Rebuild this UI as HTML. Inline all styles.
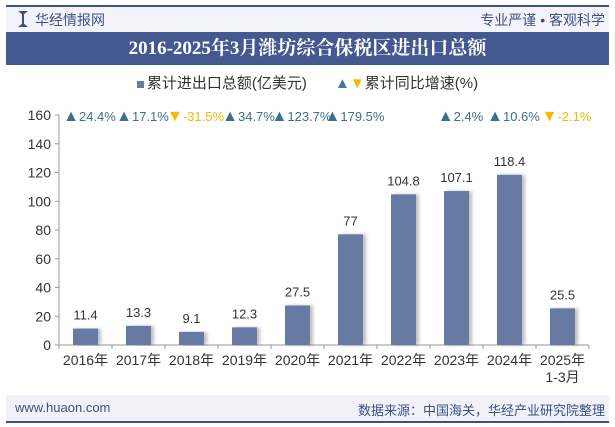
<!DOCTYPE html>
<html><head><meta charset="utf-8"><style>
body{margin:0;width:615px;height:427px;background:#fff;font-family:"Liberation Sans","Noto Sans CJK SC",sans-serif;overflow:hidden;position:relative}
.abs{position:absolute}
</style></head><body>
<div class="abs" style="left:6px;top:5px;width:603px;height:2px;background:#3d4f86"></div>
<div class="abs" style="left:6px;top:7px;width:603px;height:25px;background:#f2f4f9"></div>
<div class="abs" style="left:18px;top:11px;width:10px;height:16px;background:#3d4f86;clip-path:polygon(0 0,40% 20%,40% 80%,0 100%,100% 100%,60% 80%,60% 20%,100% 0)"></div>
<div class="abs" style="left:35px;top:10px;font-size:14px;color:#3d4f86">华经情报网</div>
<div class="abs" style="right:10px;top:10px;font-size:14px;color:#3d4f86">专业严谨 • 客观科学</div>
<div class="abs" style="left:6px;top:32px;width:603px;height:33px;background:#44598f;color:#fff;font-size:19px;font-weight:bold;text-align:center;line-height:33px;font-family:'Liberation Serif','Noto Serif CJK SC',serif">2016-2025年3月潍坊综合保税区进出口总额</div>
<div class="abs" style="left:0;top:72px;width:615px;text-align:center;font-size:15px;color:#333">
<span><span style="display:inline-block;width:7px;height:7px;background:#667aa3;margin-right:3px"></span>累计进出口总额(亿美元)</span>
<span style="margin-left:24px"><span style="color:#3d7b9a">▲</span><span style="color:#f6b800">▼</span>累计同比增速(%)</span>
</div>
<svg class="abs" style="left:0;top:0" width="615" height="427">
<defs><filter id="sh" x="-20%" y="-5%" width="160%" height="110%"><feDropShadow dx="3" dy="0" stdDeviation="1.5" flood-color="#000" flood-opacity="0.25"/></filter></defs>
<g id="g"></g>
</svg>
<div class="abs" style="left:6px;top:395px;width:603px;height:26px;background:#f0f2f8"></div>
<div class="abs" style="left:15px;top:400px;font-size:13px;color:#3d4f86">www.huaon.com</div>
<div class="abs" style="right:10px;top:400px;font-size:13px;color:#3d4f86">数据来源：中国海关，华经产业研究院整理</div>
<div class="abs" style="left:6px;top:421px;width:603px;height:2px;background:#3d4f86"></div>
<script>
const categories=["2016年","2017年","2018年","2019年","2020年","2021年","2022年","2023年","2024年","2025年"];
const values=[11.4,13.3,9.1,12.3,27.5,77,104.8,107.1,118.4,25.5];
const growth=[24.4,17.1,-31.5,34.7,123.7,179.5,null,2.4,10.6,-2.1];
const yTicks=[0,20,40,60,80,100,120,140,160];
const ns="http://www.w3.org/2000/svg",g=document.getElementById('g');
const x0=59,x1=589,yb=345,yt=115,step=(x1-x0)/categories.length;
const X=i=>x0+step*(i+0.5),Y=v=>yb-(v/160)*(yb-yt);
function el(t,a,txt){const e=document.createElementNS(ns,t);for(const k in a)e.setAttribute(k,a[k]);if(txt!=null)e.textContent=txt;g.appendChild(e);return e;}
let ax=el('line',{x1:x0,y1:yb,x2:x1,y2:yb,stroke:'#999'});
let ay=el('line',{x1:x0,y1:yt,x2:x0,y2:yb,stroke:'#999'});
yTicks.forEach(v=>{el('line',{x1:x0-4,y1:Y(v),x2:x0,y2:Y(v),stroke:'#999'});
const t=el('text',{x:x0-8,y:Y(v)+5,'text-anchor':'end','font-size':14,fill:'#333'},v);});
for(let i=0;i<=categories.length;i++)el('line',{x1:x0+step*i,y1:yb,x2:x0+step*i,y2:yb+4,stroke:'#999'});
categories.forEach((c,i)=>{
const b=el('rect',{x:X(i)-12.5,y:Y(values[i]),width:25,height:yb-Y(values[i]),fill:'#667aa3',filter:'url(#sh)'});

const l=el('text',{x:X(i),y:Y(values[i])-9,'text-anchor':'middle','font-size':13,fill:'#333'},values[i]);

const xl=el('text',{x:X(i),y:yb+20,'text-anchor':'middle','font-size':14,fill:'#333'},c);

if(i==9){const s=el('text',{x:X(i),y:yb+37,'text-anchor':'middle','font-size':14,fill:'#333'},'1-3月');}
const gv=growth[i];if(gv!=null){const up=gv>=0;
const t=el('text',{x:X(i)+4,y:121,'text-anchor':'middle','font-size':13,fill:up?'#3d6d8f':'#f6b800'});
const tri=document.createElementNS(ns,'tspan');tri.setAttribute('font-size',16);tri.textContent=up?'▲':'▼';t.appendChild(tri);
const tv=document.createElementNS(ns,'tspan');tv.textContent=gv+'%';t.appendChild(tv);
}
});
</script>
</body></html>
